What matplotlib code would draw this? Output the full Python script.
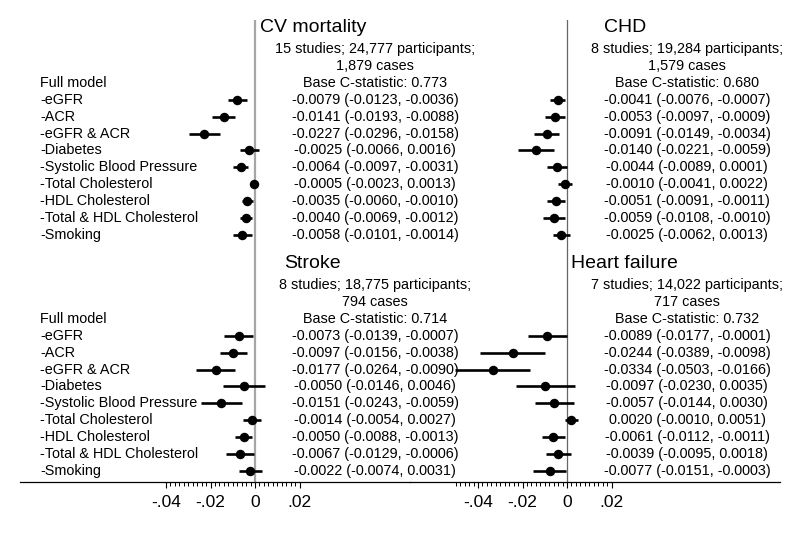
import matplotlib
matplotlib.use("Agg")
import matplotlib.pyplot as plt
import numpy as np
from matplotlib.ticker import FixedLocator

plt.rcParams['font.family'] = ['Liberation Sans', 'DejaVu Sans']

# ---------------- data ----------------
row_labels = ["Full model", "-eGFR", "-ACR", "-eGFR & ACR", "-Diabetes",
              "-Systolic Blood Pressure", "-Total Cholesterol", "-HDL Cholesterol",
              "-Total & HDL Cholesterol", "-Smoking"]

cv_title = "CV mortality"
cv_header = ["15 studies; 24,777 participants;", "1,879 cases", "Base C-statistic: 0.773"]
cv_est = [-0.0079, -0.0141, -0.0227, -0.0025, -0.0064, -0.0005, -0.0035, -0.0040, -0.0058]
cv_lo = [-0.0123, -0.0193, -0.0296, -0.0066, -0.0097, -0.0023, -0.0060, -0.0069, -0.0101]
cv_hi = [-0.0036, -0.0088, -0.0158, 0.0016, -0.0031, 0.0013, -0.0010, -0.0012, -0.0014]

chd_title = "CHD"
chd_header = ["8 studies; 19,284 participants;", "1,579 cases", "Base C-statistic: 0.680"]
chd_est = [-0.0041, -0.0053, -0.0091, -0.0140, -0.0044, -0.0010, -0.0051, -0.0059, -0.0025]
chd_lo = [-0.0076, -0.0097, -0.0149, -0.0221, -0.0089, -0.0041, -0.0091, -0.0108, -0.0062]
chd_hi = [-0.0007, -0.0009, -0.0034, -0.0059, 0.0001, 0.0022, -0.0011, -0.0010, 0.0013]

stroke_title = "Stroke"
stroke_header = ["8 studies; 18,775 participants;", "794 cases", "Base C-statistic: 0.714"]
stroke_est = [-0.0073, -0.0097, -0.0177, -0.0050, -0.0151, -0.0014, -0.0050, -0.0067, -0.0022]
stroke_lo = [-0.0139, -0.0156, -0.0264, -0.0146, -0.0243, -0.0054, -0.0088, -0.0129, -0.0074]
stroke_hi = [-0.0007, -0.0038, -0.0090, 0.0046, -0.0059, 0.0027, -0.0013, -0.0006, 0.0031]

hf_title = "Heart failure"
hf_header = ["7 studies; 14,022 participants;", "717 cases", "Base C-statistic: 0.732"]
hf_est = [-0.0089, -0.0244, -0.0334, -0.0097, -0.0057, 0.0020, -0.0061, -0.0039, -0.0077]
hf_lo = [-0.0177, -0.0389, -0.0503, -0.0230, -0.0144, -0.0010, -0.0112, -0.0095, -0.0151]
hf_hi = [-0.0001, -0.0098, -0.0166, 0.0035, 0.0030, 0.0051, -0.0011, 0.0018, -0.0003]

tick_vals = [-0.04, -0.02, 0, 0.02]
tick_labels = ["-.04", "-.02", "0", ".02"]

# ---------------- layout ----------------
W, H = 800, 535
fig = plt.figure(figsize=(W / 100, H / 100), dpi=100)
fig.patch.set_facecolor("white")

PX_PER_UNIT = 2225.0
y_top_px, y_bot_px = 20, 482
row0_px, row_px = 83, 16.86

def px_to_row(p):
    return (p - row0_px) / row_px

def make_axes(left_px, right_px, zero_px):
    ax = fig.add_axes([left_px / W, 1 - y_bot_px / H,
                       (right_px - left_px) / W, (y_bot_px - y_top_px) / H])
    ax.set_facecolor("none")
    ax.set_xlim((left_px - zero_px) / PX_PER_UNIT, (right_px - zero_px) / PX_PER_UNIT)
    ax.set_ylim(px_to_row(y_bot_px), px_to_row(y_top_px))
    for s in ["top", "left", "right"]:
        ax.spines[s].set_visible(False)
    ax.spines["bottom"].set_linewidth(0.9)
    ax.set_yticks([])
    return ax

axL = make_axes(20, 410, 255)
axR = make_axes(410, 780, 567)

LABEL_X = (40 - 255) / PX_PER_UNIT
TEXT_X = 0.054
TITLE_X = 0.026
FS = 10.4
TFS = 14

def draw_panel(ax, title, header, est, lo, hi, row0, show_labels):
    ax.text(TITLE_X, row0 - 3.05, title, ha="center", va="baseline", fontsize=TFS)
    for k, line in enumerate(header):
        ax.text(TEXT_X, row0 - 2 + k, line, ha="center", va="center", fontsize=FS)
    if show_labels:
        for k, lab in enumerate(row_labels):
            ax.text(LABEL_X, row0 + k, lab, ha="left", va="center", fontsize=FS)
    rows = row0 + 1 + np.arange(len(est))
    ax.hlines(rows, lo, hi, color="black", lw=1.9, zorder=3)
    ax.plot(est, rows, "o", color="black", ms=5.8, zorder=4)
    for r, e, l, h in zip(rows, est, lo, hi):
        ax.text(TEXT_X, r, f"{e:.4f} ({l:.4f}, {h:.4f})", ha="center", va="center",
                fontsize=FS)

draw_panel(axL, cv_title, cv_header, cv_est, cv_lo, cv_hi, 0, True)
draw_panel(axL, stroke_title, stroke_header, stroke_est, stroke_lo, stroke_hi, 14, True)
draw_panel(axR, chd_title, chd_header, chd_est, chd_lo, chd_hi, 0, False)
draw_panel(axR, hf_title, hf_header, hf_est, hf_lo, hf_hi, 14, False)

axL.axvline(0, color="#a6a6a6", lw=1.6, zorder=1)
axR.axvline(0, color="#666666", lw=0.9, zorder=1)

for ax, mn in [(axL, -0.04), (axR, -0.05)]:
    ax.set_xticks(tick_vals)
    ax.set_xticklabels(tick_labels, fontsize=12.5)
    ax.xaxis.set_minor_locator(FixedLocator(np.arange(mn, 0.0201, 0.002)))
    ax.tick_params(axis="x", which="major", length=4.5, width=0.8, pad=5, color="black")
    ax.tick_params(axis="x", which="minor", length=3.0, width=0.7, color="black")

fig.savefig("out.png", dpi=100, facecolor="white")
